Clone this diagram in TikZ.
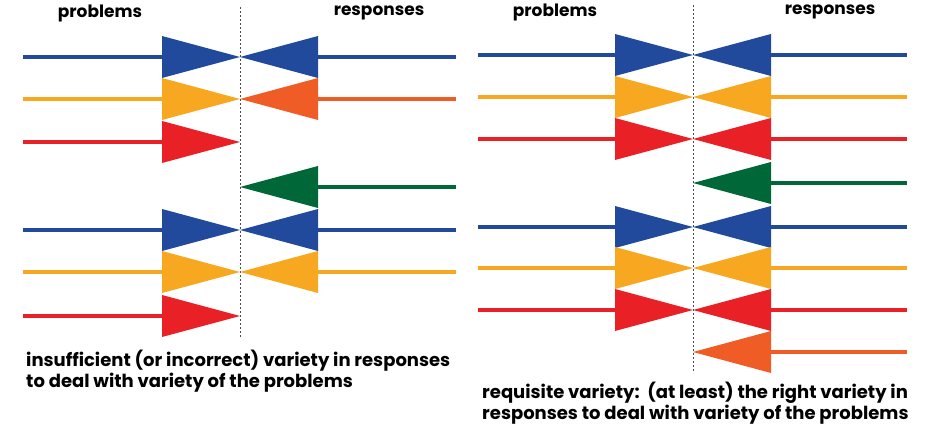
\documentclass[tikz,border=0pt]{standalone}
\usepackage{fontspec}
\setmainfont{Poppins}
\definecolor{probblue}{RGB}{33, 74, 156}
\definecolor{probyellow}{RGB}{248, 168, 32}
\definecolor{probred}{RGB}{234, 32, 39}
\definecolor{respgreen}{RGB}{0, 104, 56}
\definecolor{resporange}{RGB}{240, 92, 38}
\usetikzlibrary{shapes.geometric, positioning}

\begin{document}
\begin{tikzpicture}[x=1pt, y=-1pt,
  head/.style={isosceles triangle, isosceles triangle stretches, minimum width=42pt, minimum height=78pt, inner sep=0pt, outer sep=0pt, anchor=apex},
  probhead/.style={head},
  resphead/.style={head, rotate=180},
  divider/.style={draw=black!70, dash pattern=on 2pt off 2pt, line width=0.6pt},
  headline/.style={font=\bfseries\fontsize{17}{20}\selectfont, inner sep=0pt},
  caption/.style={font=\bfseries\fontsize{18}{21.5}\selectfont, align=left, anchor=west, inner sep=0pt}
]
  \useasboundingbox (0,0) rectangle (925,435);

  % left: insufficient variety
  \coordinate (ltop) at (240,7);
  \coordinate (lbot) at (240,337);
  \draw[divider] (ltop) -- (lbot);
  \node[headline] (lprob) at (100,13) {problems};
  \node[headline] (lresp) at (379,13) {responses};
  \foreach \n/\y/\c/\w in {1/57/probblue/4.5, 2/99/probyellow/3.5, 3/142/probred/4,
                           4/230/probblue/4.5, 5/272/probyellow/3.5, 6/316/probred/4} {
    \node[probhead, fill=\c] (lp\n) at (240,\y) {};
    \coordinate (lps\n) at (23,\y);
    \draw[line width=\w pt, \c] (lps\n) -- (lp\n.lower side);
  }
  \foreach \n/\y/\c/\w in {1/57/probblue/4.5, 2/99/resporange/3.5, 3/187/respgreen/4.5,
                           4/230/probblue/4.5, 5/272/probyellow/3.5} {
    \node[resphead, fill=\c] (lr\n) at (240,\y) {};
    \coordinate (lre\n) at (456,\y);
    \draw[line width=\w pt, \c] (lr\n.lower side) -- (lre\n);
  }
  \node[caption] (lcap) at (26,371) {insufficient (or incorrect) variety in responses\\to deal with variety of the problems};

  % right: requisite variety
  \coordinate (rtop) at (693,5);
  \coordinate (rbot) at (693,373);
  \draw[divider] (rtop) -- (rbot);
  \node[headline] (rprob) at (555,12) {problems};
  \node[headline] (rresp) at (830,12) {responses};
  \foreach \n/\y/\c/\w in {1/55/probblue/4.5, 2/97/probyellow/3.5, 3/139/probred/4,
                           4/227/probblue/4.5, 5/268/probyellow/3.5, 6/310/probred/4} {
    \node[probhead, fill=\c] (rp\n) at (693,\y) {};
    \coordinate (rps\n) at (478,\y);
    \draw[line width=\w pt, \c] (rps\n) -- (rp\n.lower side);
  }
  \foreach \n/\y/\c/\w in {1/55/probblue/4.5, 2/97/probyellow/3.5, 3/139/probred/4, 4/183/respgreen/4.5,
                           5/227/probblue/4.5, 6/268/probyellow/3.5, 7/310/probred/4, 8/352/resporange/3.5} {
    \node[resphead, fill=\c] (rr\n) at (693,\y) {};
    \coordinate (rre\n) at (907,\y);
    \draw[line width=\w pt, \c] (rr\n.lower side) -- (rre\n);
  }
  \node[caption] (rcap) at (482,403) {requisite variety:\ \ (at least) the right variety in\\responses to deal with variety of the problems};
\end{tikzpicture}
\end{document}
